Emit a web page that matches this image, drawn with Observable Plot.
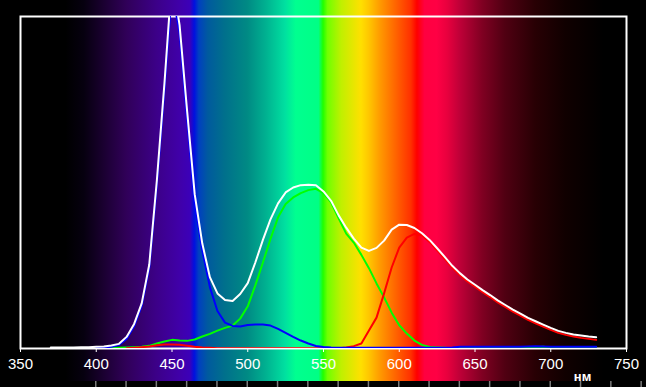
<!DOCTYPE html>
<html>
<head>
<meta charset="utf-8">
<script src="https://cdn.jsdelivr.net/npm/d3@7"></script>
<script src="https://cdn.jsdelivr.net/npm/@observablehq/plot@0.6"></script>
<style>
  html, body { margin: 0; padding: 0; background: #000; }
  #chart { width: 646px; height: 387px; overflow: hidden; }
</style>
</head>
<body>
<div id="chart"></div>
<script>
// wavelength grid (nm)
const nm = [370,375,380,385,390,395,400,405,410,415,420,425,430,435,440,445,450,455,460,465,470,475,480,485,490,495,500,505,510,515,520,525,530,535,540,545,550,555,560,565,570,575,580,585,590,595,600,605,610,615,620,625,630,635,640,645,650,655,660,665,670,675,680,685,690,695,700,705,710,715,720,725,730];

const whiteSeries = [0.3,0.3,0.3,0.3,0.4,0.4,0.5,0.6,0.9,1.4,3.5,7.4,13.6,25.3,50.6,79.8,112,97.4,71.4,46.4,31.6,21.5,16.6,14.6,14.3,16.4,19.7,25.9,32.7,38.9,43.7,47.0,48.5,49.2,49.3,49.2,47.3,44.5,40.1,36.4,33.1,30.4,29.4,30.3,32.5,35.8,37.3,37.2,36.3,34.7,32.7,30.2,27.6,24.9,22.7,20.8,19.2,17.6,16.1,14.5,13.1,11.7,10.5,9.2,8.2,7.2,6.2,5.3,4.7,4.2,3.9,3.6,3.4];

const blueSeries = [null,null,null,null,null,null,0.2,0.3,0.5,1.1,2.9,6.7,12.8,24.3,49.1,77.7,108,95.0,69.0,43.5,29.5,18.5,11.3,7.8,6.8,6.6,7.1,7.2,7.2,6.9,5.9,4.7,3.5,2.4,1.5,0.75,0.45,0.3,0.25,0.25,0.25,0.25,0.25,0.25,0.25,0.25,0.25,0.25,0.25,0.25,0.25,0.25,0.25,0.3,0.5,0.5,0.5,0.5,0.5,0.5,0.5,0.5,0.5,0.6,0.7,0.6,0.5,0.5,0.5,0.5,0.5,0.5,0.5];

const greenSeries = [null,null,null,null,null,null,null,0.1,0.15,0.2,0.3,0.4,0.5,0.8,1.5,2.1,2.6,2.4,2.3,2.7,3.6,4.4,5.4,6.2,6.9,9.0,12.7,19.0,25.9,33.0,39.5,43.5,45.5,46.8,47.7,48.1,46.8,44.0,39.2,34.6,31.9,28.2,24.2,19.6,15.4,10.8,7.0,4.5,2.4,1.1,0.45,0.3,0.2,0.1,0.1,0.1,0.1,0.1,0.1,0.1,0.1,0.1,0.1,0.2,0.4,0.5,0.3,0.1,0.1,0.1,0.1,0.1,0.1];

const redSeries = [null,null,null,null,null,null,null,null,null,null,0.1,0.2,0.4,0.6,1.0,1.2,1.2,1.1,0.8,0.5,0.3,0.2,0.1,0.1,0.1,0.1,0.1,0.1,0.1,0.1,0.1,0.1,0.1,0.1,0.1,0.1,0.1,0.1,0.1,0.3,0.7,1.5,5.4,9.3,16.6,24.4,30.4,33.4,34.5,34.1,32.1,29.6,27.0,24.3,22.1,20.2,18.6,17.0,15.5,13.9,12.5,11.1,9.9,8.6,7.6,6.6,5.6,4.7,4.1,3.6,3.2,2.9,2.6];

// axis ticks
const xTicks = [350,400,450,500,550,600,650,700,750];
const rulerTicks = [400,420,440,460,480,500,520,540,560,580,600,620,640,660,680,700,720,740,760];
const unitLabel = "нм";

// spectrum background stops
const spectrumNm =    [380,392,405,420,440,455,462,465,468,474,485,500,512,525,532,547,550,553,562,575,580,588,598,608,612,617,625,632,640,655,670,690,710,735];
const spectrumColor = ["#000000","#06000f","#1a0030","#300058","#3c0088","#4000a8","#3c00b8","#0010e0","#0040c0","#005a9e","#00708c","#008a84","#00b090","#00e0a0","#00ff90","#00ff85","#20ff00","#70ff00","#c0f000","#ffe000","#ffc800","#ff9800","#ff6400","#ff3000","#ff0000","#ff0040","#ff0044","#e8003e","#c00038","#800022","#500012","#280004","#100000","#000000"];

function toRows(values) {
  const rows = [];
  values.forEach((v, i) => { if (v != null) rows.push({nm: nm[i], v}); });
  return rows;
}

const W = 646, H = 387;

const plot = Plot.plot({
  width: W,
  height: H,
  marginLeft: 20,
  marginRight: 20,
  marginTop: 16,
  marginBottom: 39,
  style: {background: "#000", color: "white", fontFamily: "'Liberation Sans', Arial, sans-serif", fontSize: "15px"},
  x: {domain: [350, 750], ticks: xTicks, tickSize: 4, tickPadding: 6, label: null, tickFormat: d => String(d)},
  y: {domain: [0, 100], axis: null},
  marks: [
    Plot.frame({stroke: "white", strokeWidth: 2}),
    Plot.line(toRows(greenSeries), {x: "nm", y: "v", stroke: "#00ff00", strokeWidth: 2, clip: true}),
    Plot.line(toRows(redSeries), {x: "nm", y: "v", stroke: "#ff0000", strokeWidth: 2, clip: true}),
    Plot.line(toRows(blueSeries), {x: "nm", y: "v", stroke: "#0000ff", strokeWidth: 2, clip: true}),
    Plot.line(toRows(whiteSeries), {x: "nm", y: "v", stroke: "#ffffff", strokeWidth: 2, clip: true}),
    Plot.text([unitLabel], {x: 721, frameAnchor: "bottom", dy: 32, fill: "white", fontSize: 13, fontWeight: "bold"})
  ]
});

// spectrum background built from the x scale
const xs = plot.scale("x");
const ns = "http://www.w3.org/2000/svg";
const defs = document.createElementNS(ns, "defs");
const grad = document.createElementNS(ns, "linearGradient");
grad.setAttribute("id", "spectrumGrad");
grad.setAttribute("gradientUnits", "userSpaceOnUse");
grad.setAttribute("x1", 0); grad.setAttribute("x2", W);
grad.setAttribute("y1", 0); grad.setAttribute("y2", 0);
spectrumNm.forEach((n, i) => {
  const s = document.createElementNS(ns, "stop");
  s.setAttribute("offset", Math.max(0, Math.min(1, xs.apply(n) / W)));
  s.setAttribute("stop-color", spectrumColor[i]);
  grad.appendChild(s);
});
defs.appendChild(grad);
const bg = document.createElementNS(ns, "g");
const rect = document.createElementNS(ns, "rect");
rect.setAttribute("x", 0); rect.setAttribute("y", 0);
rect.setAttribute("width", W); rect.setAttribute("height", H - 6);
rect.setAttribute("fill", "url(#spectrumGrad)");
bg.appendChild(rect);
rulerTicks.forEach(t => {
  const l = document.createElementNS(ns, "line");
  const px = xs.apply(t);
  l.setAttribute("x1", px); l.setAttribute("x2", px);
  l.setAttribute("y1", H - 6); l.setAttribute("y2", H);
  l.setAttribute("stroke", "#7a7a7a");
  l.setAttribute("stroke-width", 1.5);
  bg.appendChild(l);
});
plot.insertBefore(bg, plot.firstChild);
plot.insertBefore(defs, plot.firstChild);

document.getElementById("chart").appendChild(plot);
</script>
</body>
</html>
